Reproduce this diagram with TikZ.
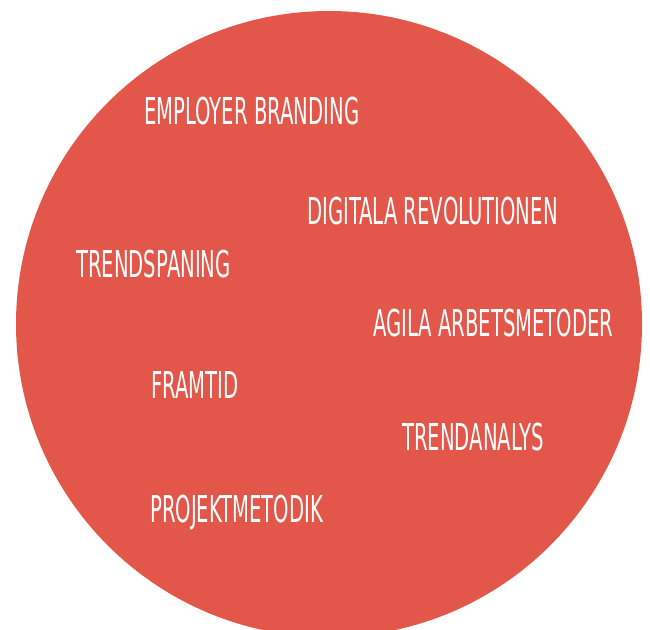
\documentclass[tikz,border=0pt]{standalone}
\usepackage{fontspec}
\newfontfamily\topicfont[FakeStretch=0.53]{DejaVu Sans}
\definecolor{circlered}{RGB}{226,87,74}
\tikzset{
    topic/.style = {text=white, font=\topicfont\fontsize{37}{40}\selectfont, anchor=base west, inner sep=0pt},
}

\begin{document}
\begin{tikzpicture}[x=1pt, y=-1pt]
            \useasboundingbox (0, 0) rectangle (650, 629);
            \clip (0, 0) rectangle (650, 629);
            \fill [circlered] (329, 324) circle [radius=313];

            \node [topic] (employer) at (144, 124) {EMPLOYER BRANDING};
            \node [topic] (digitala) at (307, 224) {DIGITALA REVOLUTIONEN};
            \node [topic] (trendspaning) at (76, 277) {TRENDSPANING};
            \node [topic] (agila) at (373, 336) {AGILA ARBETSMETODER};
            \node [topic] (framtid) at (151, 398) {FRAMTID};
            \node [topic] (trendanalys) at (402, 450) {TRENDANALYS};
            \node [topic] (projekt) at (150, 522) {PROJEKTMETODIK};
        \end{tikzpicture}
\end{document}
